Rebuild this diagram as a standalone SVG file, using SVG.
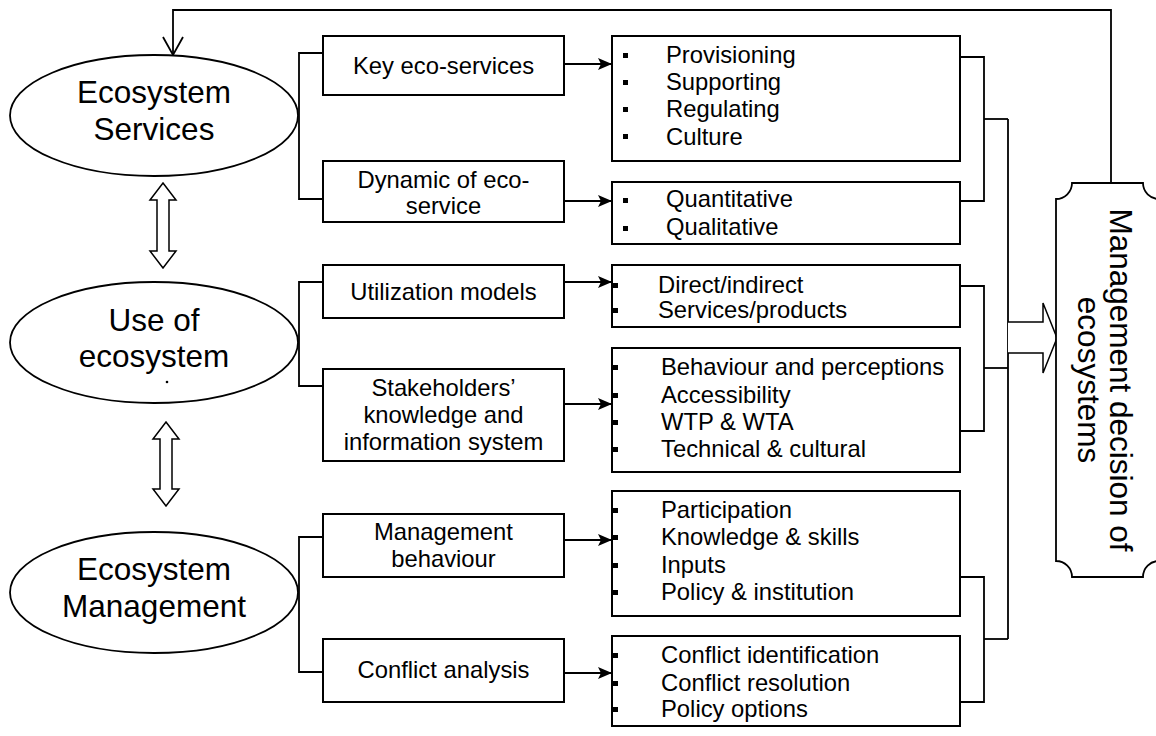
<svg xmlns="http://www.w3.org/2000/svg" width="1156" height="736" viewBox="0 0 1156 736">
<style>
text{font-family:"Liberation Sans",Arial,sans-serif;fill:#000}
.big{font-size:31.5px;text-anchor:middle}
.lbl{font-size:23.8px;text-anchor:middle}
.itm{font-size:23.8px}
.box{fill:#fff;stroke:#000;stroke-width:2}
.ell{fill:#fff;stroke:#000;stroke-width:1.8}
.ln{fill:none;stroke:#000;stroke-width:1.8}
.arr{fill:none;stroke:#000;stroke-width:2;marker-end:url(#ah)}
.hol{fill:#fff;stroke:#000;stroke-width:1.5}
.bul{fill:#000}
</style>
<defs>
<marker id="ah" markerUnits="userSpaceOnUse" markerWidth="16" markerHeight="14" refX="14" refY="6" orient="auto">
<path d="M0,0 L14,6 L0,12 L3,6 Z" fill="#000"/>
</marker>
<marker id="av" markerUnits="userSpaceOnUse" markerWidth="22" markerHeight="24" refX="19" refY="11" orient="auto">
<path d="M1,1 L19,11 L1,21" fill="none" stroke="#000" stroke-width="1.8"/>
</marker>
</defs>
<rect width="1156" height="736" fill="#fff"/>

<g id="connectors">
<polyline class="ln" points="1111,183 1111,10 173,10 173,55" marker-end="url(#av)"/>
<polyline class="ln" points="323,53 299,53 299,199 323,199"/>
<polyline class="ln" points="323,282 299,282 299,386 323,386"/>
<polyline class="ln" points="323,537 299,537 299,672 323,672"/>
<line class="arr" x1="564" y1="64" x2="612" y2="64"/>
<line class="arr" x1="564" y1="201" x2="612" y2="201"/>
<line class="arr" x1="564" y1="282" x2="612" y2="282"/>
<line class="arr" x1="564" y1="404" x2="612" y2="404"/>
<line class="arr" x1="564" y1="540" x2="612" y2="540"/>
<line class="arr" x1="564" y1="673" x2="612" y2="673"/>
<polyline class="ln" points="960,57 984,57 984,201 960,201"/>
<polyline class="ln" points="960,286 984,286 984,431 960,431"/>
<polyline class="ln" points="960,577 984,577 984,702 960,702"/>
<line class="ln" x1="984" y1="119" x2="1008" y2="119"/>
<line class="ln" x1="984" y1="368" x2="1008" y2="368"/>
<line class="ln" x1="984" y1="639" x2="1008" y2="639"/>
<line class="ln" x1="1008" y1="119" x2="1008" y2="639"/>
<path class="hol" d="M1008,322 H1043 V303 L1057,338 L1043,373 V353 H1008"/>
<polygon class="hol" points="163,183 176,200 169,200 169,251 176,251 163,268 150,251 157,251 157,200 150,200"/>
<polygon class="hol" points="166,422 179,439 172,439 172,489 179,489 166,506 153,489 160,489 160,439 153,439"/>
</g>

<g id="ecosystem-services">
<ellipse class="ell" cx="154" cy="115.5" rx="144" ry="60.5"/>
<text class="big" x="154" y="103">Ecosystem</text>
<text class="big" x="154" y="140">Services</text>
</g>
<g id="use-of-ecosystem">
<ellipse class="ell" cx="154" cy="342.5" rx="144" ry="60.5"/>
<text class="big" x="154" y="331">Use of</text>
<text class="big" x="154" y="367">ecosystem</text>
<circle cx="167" cy="382" r="1.3" fill="#000"/>
</g>
<g id="ecosystem-management">
<ellipse class="ell" cx="154" cy="592.5" rx="144" ry="60.5"/>
<text class="big" x="154" y="580">Ecosystem</text>
<text class="big" x="154" y="617">Management</text>
</g>

<g id="key-eco-services">
<rect class="box" x="323" y="36" width="241" height="59"/>
<text class="lbl" x="443.5" y="74">Key eco-services</text>
</g>
<g id="dynamic-of-eco-service">
<rect class="box" x="323" y="161" width="241" height="61"/>
<text class="lbl" x="443.5" y="188">Dynamic of eco-</text>
<text class="lbl" x="443.5" y="214">service</text>
</g>
<g id="utilization-models">
<rect class="box" x="323" y="265" width="241" height="53"/>
<text class="lbl" x="443.5" y="300">Utilization models</text>
</g>
<g id="stakeholders">
<rect class="box" x="323" y="369" width="241" height="92"/>
<text class="lbl" x="443.5" y="396">Stakeholders’</text>
<text class="lbl" x="443.5" y="423">knowledge and</text>
<text class="lbl" x="443.5" y="450">information system</text>
</g>
<g id="management-behaviour">
<rect class="box" x="323" y="514" width="241" height="63"/>
<text class="lbl" x="443.5" y="540">Management</text>
<text class="lbl" x="443.5" y="567">behaviour</text>
</g>
<g id="conflict-analysis">
<rect class="box" x="323" y="639" width="241" height="63"/>
<text class="lbl" x="443.5" y="678">Conflict analysis</text>
</g>

<g id="services-list">
<rect class="box" x="612" y="36" width="348" height="125"/>
<rect class="bul" x="623" y="53" width="5" height="5"/>
<rect class="bul" x="623" y="80" width="5" height="5"/>
<rect class="bul" x="623" y="107" width="5" height="5"/>
<rect class="bul" x="623" y="134" width="5" height="5"/>
<text class="itm" x="666" y="63">Provisioning</text>
<text class="itm" x="666" y="90">Supporting</text>
<text class="itm" x="666" y="117">Regulating</text>
<text class="itm" x="666" y="145">Culture</text>
</g>
<g id="dynamic-list">
<rect class="box" x="612" y="182" width="348" height="62"/>
<rect class="bul" x="623" y="198" width="5" height="5"/>
<rect class="bul" x="623" y="226" width="5" height="5"/>
<text class="itm" x="666" y="207">Quantitative</text>
<text class="itm" x="666" y="235">Qualitative</text>
</g>
<g id="utilization-list">
<rect class="box" x="612" y="265" width="348" height="62"/>
<rect class="bul" x="613" y="283" width="5" height="5"/>
<rect class="bul" x="613" y="308" width="5" height="5"/>
<text class="itm" x="658" y="293">Direct/indirect</text>
<text class="itm" x="658" y="318">Services/products</text>
</g>
<g id="stakeholder-list">
<rect class="box" x="612" y="348" width="348" height="124"/>
<rect class="bul" x="613" y="365" width="5" height="5"/>
<rect class="bul" x="613" y="393" width="5" height="5"/>
<rect class="bul" x="613" y="420" width="5" height="5"/>
<rect class="bul" x="613" y="447" width="5" height="5"/>
<text class="itm" x="661" y="375">Behaviour and perceptions</text>
<text class="itm" x="661" y="403">Accessibility</text>
<text class="itm" x="661" y="430">WTP &amp; WTA</text>
<text class="itm" x="661" y="457">Technical &amp; cultural</text>
</g>
<g id="management-list">
<rect class="box" x="612" y="491" width="348" height="125"/>
<rect class="bul" x="613" y="508" width="5" height="5"/>
<rect class="bul" x="613" y="535" width="5" height="5"/>
<rect class="bul" x="613" y="563" width="5" height="5"/>
<rect class="bul" x="613" y="590" width="5" height="5"/>
<text class="itm" x="661" y="518">Participation</text>
<text class="itm" x="661" y="545">Knowledge &amp; skills</text>
<text class="itm" x="661" y="573">Inputs</text>
<text class="itm" x="661" y="600">Policy &amp; institution</text>
</g>
<g id="conflict-list">
<rect class="box" x="612" y="636" width="348" height="90"/>
<rect class="bul" x="613" y="653" width="5" height="5"/>
<rect class="bul" x="613" y="681" width="5" height="5"/>
<rect class="bul" x="613" y="707" width="5" height="5"/>
<text class="itm" x="661" y="663">Conflict identification</text>
<text class="itm" x="661" y="691">Conflict resolution</text>
<text class="itm" x="661" y="717">Policy options</text>
</g>

<g id="management-decision">
<path d="M1072,183 H1143 A16,16 0 0 0 1159,199 V561 A16,16 0 0 0 1143,577 H1072 A16,16 0 0 0 1056,561 V199 A16,16 0 0 0 1072,183 Z" fill="#fff" stroke="#000" stroke-width="1.8"/>
<text class="big" transform="translate(1110,380) rotate(90)" x="0" y="0">Management decision of</text>
<text class="big" transform="translate(1078,380) rotate(90)" x="0" y="0">ecosystems</text>
</g>
</svg>
